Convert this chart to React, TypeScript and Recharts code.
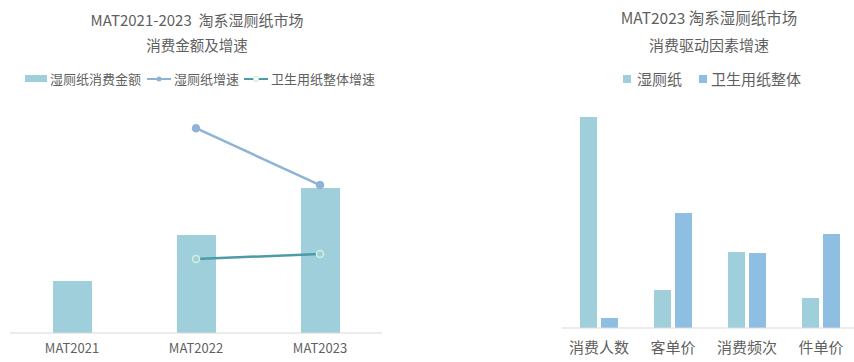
import { ComposedChart, BarChart, Bar, Line, XAxis, YAxis, Legend } from 'recharts';

// left: MAT 消费金额 (bar) and growth rates (lines, %)
const years = ['MAT2021', 'MAT2022', 'MAT2023'];
const wetSpend = [14, 26.4, 39];
const wetGrowth = [null, 60, 35];
const tissueGrowth = [null, 2.5, 4.7];

// right: driver growth (%)
const drivers = ['消费人数', '客单价', '消费频次', '件单价'];
const wetDriver = [21.1, 3.8, 7.6, 3.0];
const tissueDriver = [1.0, 11.5, 7.5, 9.4];

const leftData = years.map((y, i) => ({
    year: y,
    spend: wetSpend[i],
    wet: wetGrowth[i],
    tissue: tissueGrowth[i],
}));

const rightData = drivers.map((d, i) => ({
    name: d,
    wet: wetDriver[i],
    tissue: tissueDriver[i],
}));

const BAR = '#9fcfdb';
const LINE1 = '#8fb3d6';
const LINE2 = '#4e9ba8';
const BAR2 = '#8ebfe3';
const TXT = '#5f5f5f';
const FONT = '"Noto Sans CJK SC", "Noto Sans", sans-serif';

const titleStyle = (left: number, width: number, top: number, size: number) => ({
    position: 'absolute' as const,
    left,
    width,
    top,
    textAlign: 'center' as const,
    fontSize: size,
    color: TXT,
    fontFamily: FONT,
    lineHeight: '20px',
    whiteSpace: 'nowrap' as const,
});

const LeftLegend = () => (
    <div style={{ display: 'flex', alignItems: 'center', fontSize: 13, color: TXT, fontFamily: FONT, paddingLeft: 25 }}>
        <span style={{ width: 22, height: 7, background: BAR, marginRight: 3 }} />
        <span style={{ marginRight: 6 }}>湿厕纸消费金额</span>
        <svg width={24} height={8} style={{ marginRight: 3 }}>
            <line x1={0} y1={4} x2={24} y2={4} stroke={LINE1} strokeWidth={2} />
            <circle cx={12} cy={4} r={2.5} fill={LINE1} />
        </svg>
        <span style={{ marginRight: 5 }}>湿厕纸增速</span>
        <svg width={24} height={8} style={{ marginRight: 3 }}>
            <line x1={0} y1={4} x2={24} y2={4} stroke={LINE2} strokeWidth={2} />
            <circle cx={12} cy={4} r={2.5} fill="#fff" stroke="#bfe3cf" />
        </svg>
        <span>卫生用纸整体增速</span>
    </div>
);

const RightLegend = () => (
    <div style={{ display: 'flex', alignItems: 'center', fontSize: 15, color: TXT, fontFamily: FONT, paddingLeft: 83 }}>
        <span style={{ width: 8, height: 8, background: BAR, marginRight: 6 }} />
        <span style={{ marginRight: 17 }}>湿厕纸</span>
        <span style={{ width: 8, height: 8, background: BAR2, marginRight: 4 }} />
        <span>卫生用纸整体</span>
    </div>
);

const App = () => {
    return (
        <div style={{ position: 'absolute', left: 0, top: 0, width: 854, height: 362, overflow: 'hidden', background: '#fff' }}>
            <div style={titleStyle(0, 394, 10, 15)}>MAT2021-2023&nbsp;&nbsp;淘系湿厕纸市场</div>
            <div style={titleStyle(0, 394, 35, 14.5)}>消费金额及增速</div>
            <div style={titleStyle(540, 338, 7, 15.5)}>MAT2023&nbsp;淘系湿厕纸市场</div>
            <div style={titleStyle(540, 338, 35, 15)}>消费驱动因素增速</div>

            <div style={{ position: 'absolute', left: 0, top: 0 }}>
                <ComposedChart width={400} height={362} data={leftData}
                    margin={{ top: 110, right: 18, left: 10, bottom: 0 }}>
                    <XAxis dataKey="year" height={29} tickLine={false}
                        axisLine={{ stroke: '#d9d9d9' }}
                        tick={{ fill: TXT, fontSize: 13, fontFamily: FONT }} tickMargin={5} />
                    <YAxis yAxisId="l" hide domain={[0, 60]} />
                    <YAxis yAxisId="r" hide orientation="right" domain={[-30, 68]} />
                    <Legend layout="horizontal" verticalAlign="middle"
                        wrapperStyle={{ top: 69, left: 0, width: 400 }}
                        content={() => <LeftLegend />} />
                    <Bar yAxisId="l" dataKey="spend" fill={BAR} barSize={39} isAnimationActive={false} />
                    <Line yAxisId="r" dataKey="wet" stroke={LINE1} strokeWidth={2.5}
                        dot={{ r: 3, fill: LINE1, stroke: LINE1 }} isAnimationActive={false} />
                    <Line yAxisId="r" dataKey="tissue" stroke={LINE2} strokeWidth={2.5}
                        dot={{ r: 3.5, fill: BAR, stroke: '#d2efdc', strokeWidth: 1.5 }} isAnimationActive={false} />
                </ComposedChart>
            </div>

            <div style={{ position: 'absolute', left: 540, top: 0 }}>
                <BarChart width={318} height={362} data={rightData}
                    margin={{ top: 110, right: 0, left: 22, bottom: 0 }}
                    barGap={4}>
                    <XAxis dataKey="name" height={34} tickLine={false}
                        axisLine={{ stroke: '#d9d9d9' }}
                        tick={{ fill: TXT, fontSize: 15, fontFamily: FONT }} tickMargin={8} />
                    <YAxis hide domain={[0, 21.8]} />
                    <Legend layout="horizontal" verticalAlign="middle"
                        wrapperStyle={{ top: 68, left: 0, width: 318 }}
                        content={() => <RightLegend />} />
                    <Bar dataKey="wet" fill={BAR} barSize={17} isAnimationActive={false} />
                    <Bar dataKey="tissue" fill={BAR2} barSize={17} isAnimationActive={false} />
                </BarChart>
            </div>
        </div>
    );
};

export default App;
